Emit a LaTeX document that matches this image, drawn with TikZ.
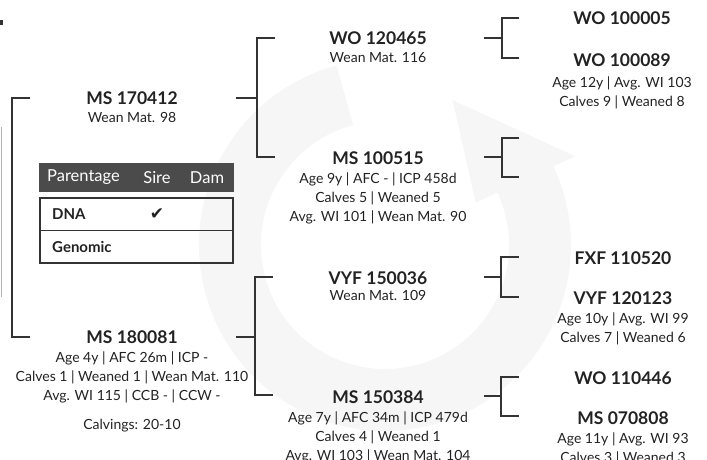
\documentclass[tikz,border=0pt]{standalone}
\usepackage{fontspec}
\setmainfont{Lato}
\newfontfamily\symbolfont{DejaVu Sans}
\usetikzlibrary{positioning}

\definecolor{inkgray}{HTML}{222222}
\definecolor{linegray}{HTML}{333333}
\definecolor{headgray}{HTML}{4B4B4B}
\definecolor{markgray}{HTML}{F6F6F6}

\tikzset{
  animal/.style={font=\bfseries\fontsize{17.5}{19}\selectfont, text=inkgray, inner sep=0pt},
  info/.style={font=\fontsize{14}{19}\selectfont, text=inkgray, align=center, inner sep=0pt, anchor=north},
  link/.style={draw=linegray, line width=1.1pt},
  headcell/.style={font=\fontsize{16.5}{18}\selectfont, text=white, inner sep=0pt},
  rowcell/.style={font=\bfseries\fontsize{15}{17}\selectfont, text=inkgray, inner sep=0pt, anchor=west}
}

% stub from the offspring, then the bracket to sire and dam
\newcommand{\pedlink}[4]{\draw[link] (#1) -- ++(#4,0) coordinate (j) (#2) -| (j) |- (#3);}

\begin{document}
\begin{tikzpicture}[x=1pt,y=-1pt]
\useasboundingbox (0,0) rectangle (707,460);
% faint watermark
\draw[markgray, line width=62pt] ([shift={(105:155pt)}]385,245) arc[start angle=105, end angle=395, radius=155pt];
\fill[markgray] ([shift={(25:100pt)}]385,245) -- ([shift={(25:210pt)}]385,245) -- ([shift={(65:160pt)}]385,245) -- cycle;

% subject (off page)
\draw[gray!60, line width=0.8pt] (1,127) -- (1,297);
\fill[linegray] (0,20) rectangle (2.5,25);

% generation 1
\node[animal] (t170412) at (132,98) {MS 170412};
\node[info] (i170412) at (132,112) {Wean Mat. 98};
\node[animal] (t180081) at (132,337) {MS 180081};
\node[info] (i180081) at (132,351.5) {Age 4y | AFC 26m | ICP -\\Calves 1 | Weaned 1 | Wean Mat. 110\\Avg. WI 115 | CCB - | CCW -\\[10pt]Calvings: 20-10};

% parentage table
\node[fill=headgray, minimum width=195pt, minimum height=29pt, inner sep=0pt] (thead) at (136.5,177.5) {};
\node[headcell, anchor=west] (hpar) at (47,177.5) {Parentage};
\node[headcell] (hsire) at (157,177.5) {Sire};
\node[headcell] (hdam) at (207,177.5) {Dam};
\draw[draw=linegray, line width=2pt] (40,198) rectangle (233,263);
\draw[draw=linegray, line width=0.8pt] (40,230) -- (233,230);
\node[rowcell] (rdna) at (52,214) {DNA};
\node[font=\symbolfont\fontsize{17}{19}\selectfont, text=inkgray, inner sep=0pt] (rcheck) at (157,214) {✔};
\node[rowcell] (rgen) at (52,247) {Genomic};

% generation 2
\node[animal] (t120465) at (378,38) {WO 120465};
\node[info] (i120465) at (378,52) {Wean Mat. 116};
\node[animal] (t100515) at (378,158) {MS 100515};
\node[info] (i100515) at (378,173) {Age 9y | AFC - | ICP 458d\\Calves 5 | Weaned 5\\Avg. WI 101 | Wean Mat. 90};
\node[animal] (t150036) at (378,278) {VYF 150036};
\node[info] (i150036) at (378,290) {Wean Mat. 109};
\node[animal] (t150384) at (378,397) {MS 150384};
\node[info] (i150384) at (378,412) {Age 7y | AFC 34m | ICP 479d\\Calves 4 | Weaned 1\\Avg. WI 103 | Wean Mat. 104};

% generation 3
\node[animal] (t100005) at (622,18) {WO 100005};
\node[animal] (t100089) at (622,60) {WO 100089};
\node[info] (i100089) at (622,77) {Age 12y | Avg. WI 103\\Calves 9 | Weaned 8};
\node[animal] (t110520) at (623,258) {FXF 110520};
\node[animal] (t120123) at (623,298) {VYF 120123};
\node[info] (i120123) at (623,313) {Age 10y | Avg. WI 99\\Calves 7 | Weaned 6};
\node[animal] (t110446) at (623,378) {WO 110446};
\node[animal] (t070808) at (623,418) {MS 070808};
\node[info] (i070808) at (623,433) {Age 11y | Avg. WI 93\\Calves 3 | Weaned 3};

% bracket ends
\coordinate (s0t) at (30,98);   \coordinate (s0b) at (30,337);
\coordinate (s1) at (236,98);   \coordinate (s1t) at (275,38);  \coordinate (s1b) at (275,157);
\coordinate (s2) at (236,337);  \coordinate (s2t) at (273,277); \coordinate (s2b) at (273,395);
\coordinate (s3) at (484,38);   \coordinate (s3t) at (519,18);  \coordinate (s3b) at (519,58);
\coordinate (s4) at (484,157);  \coordinate (s4t) at (519,138); \coordinate (s4b) at (519,177);
\coordinate (s5) at (484,277);  \coordinate (s5t) at (519,257); \coordinate (s5b) at (519,297);
\coordinate (s6) at (484,396);  \coordinate (s6t) at (519,377); \coordinate (s6b) at (519,416);

\draw[link] (s0t) -- ++(-18,0) |- (s0b);
\pedlink{s1}{s1t}{s1b}{21}
\pedlink{s2}{s2t}{s2b}{19}
\pedlink{s3}{s3t}{s3b}{18}
\pedlink{s4}{s4t}{s4b}{18}
\pedlink{s5}{s5t}{s5b}{17}
\pedlink{s6}{s6t}{s6b}{17}
\end{tikzpicture}
\end{document}
